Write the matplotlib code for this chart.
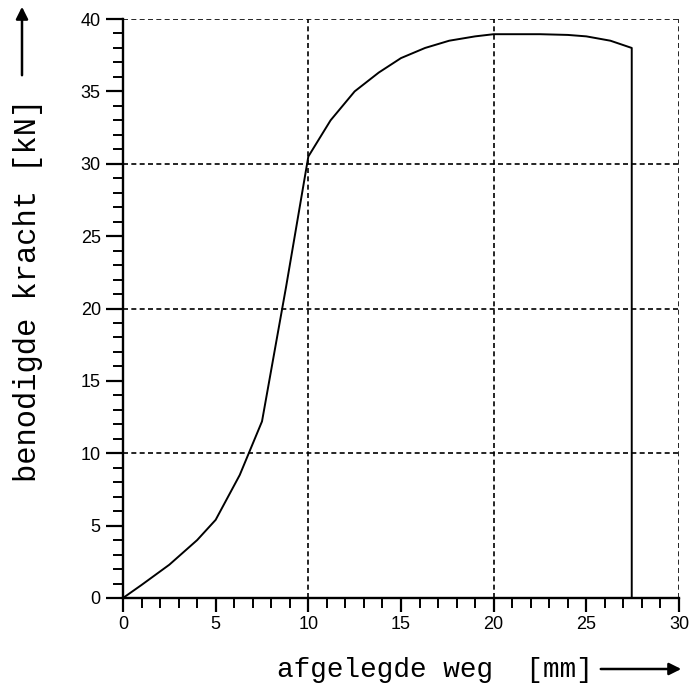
import matplotlib.pyplot as plt
from matplotlib.patches import FancyArrowPatch
from matplotlib.ticker import MultipleLocator

# kracht-weg curve
weg = [0, 1, 2.5, 4, 5, 6.3, 7.5, 8.8, 10, 11.2, 12.5, 13.8, 15, 16.3, 17.6, 19, 20,
       21.5, 22.5, 24, 25, 26.3, 27.45, 27.45]
kracht = [0, 0.9, 2.3, 4.0, 5.4, 8.5, 12.2, 21.5, 30.5, 33.0, 35.0, 36.3, 37.3, 38.0, 38.5,
          38.8, 38.95, 38.95, 38.95, 38.9, 38.8, 38.5, 38.0, 0]

xticks = [0, 5, 10, 15, 20, 25, 30]
yticks = [0, 5, 10, 15, 20, 25, 30, 35, 40]
xlabel = "afgelegde weg  [mm]"
ylabel = "benodigde kracht [kN]"

fig = plt.figure(figsize=(6.93, 6.93), dpi=100)
ax = fig.add_axes([123/693, 1-598/693, 556/693, 579/693])

ax.plot(weg, kracht, color='black', lw=1.4, solid_joinstyle='round')

ax.set_xlim(0, 30)
ax.set_ylim(0, 40)
ax.set_xticks(xticks)
ax.set_yticks(yticks)
ax.xaxis.set_minor_locator(MultipleLocator(1))
ax.yaxis.set_minor_locator(MultipleLocator(1))

for x in [10, 20, 30]:
    ax.axvline(x, color='black', ls=(0, (3, 2)), lw=1.2)
for y in [10, 20, 30, 40]:
    ax.axhline(y, color='black', ls=(0, (3, 2)), lw=1.2)

ax.spines['top'].set_visible(False)
ax.spines['right'].set_visible(False)
ax.spines['left'].set_linewidth(1.7)
ax.spines['bottom'].set_linewidth(1.7)

ax.tick_params(axis='x', which='major', length=10, width=1.6, direction='out', pad=3)
ax.tick_params(axis='x', which='minor', length=7, width=1.4, direction='out')
ax.tick_params(axis='y', which='major', length=12, width=1.6, direction='out', pad=4)
ax.tick_params(axis='y', which='minor', length=7, width=1.4, direction='out')
for lab in ax.get_xticklabels() + ax.get_yticklabels():
    lab.set_fontfamily('Liberation Sans')
    lab.set_fontsize(13)

fig.text(593/693, 1-670/693, xlabel, family='Liberation Mono', fontsize=20,
         ha='right', va='center')
fig.text(28/693, 1-290/693, ylabel, family='Liberation Mono', fontsize=22,
         ha='center', va='center', rotation=90)

fig.patches.append(FancyArrowPatch(
    (598, 693-669), (684, 693-669), transform=None, arrowstyle='-|>',
    mutation_scale=18, lw=1.8, color='black'))
fig.patches.append(FancyArrowPatch(
    (22, 693-78), (22, 693-4), transform=None, arrowstyle='-|>',
    mutation_scale=18, lw=1.8, color='black'))

fig.savefig('out.png', dpi=100)
